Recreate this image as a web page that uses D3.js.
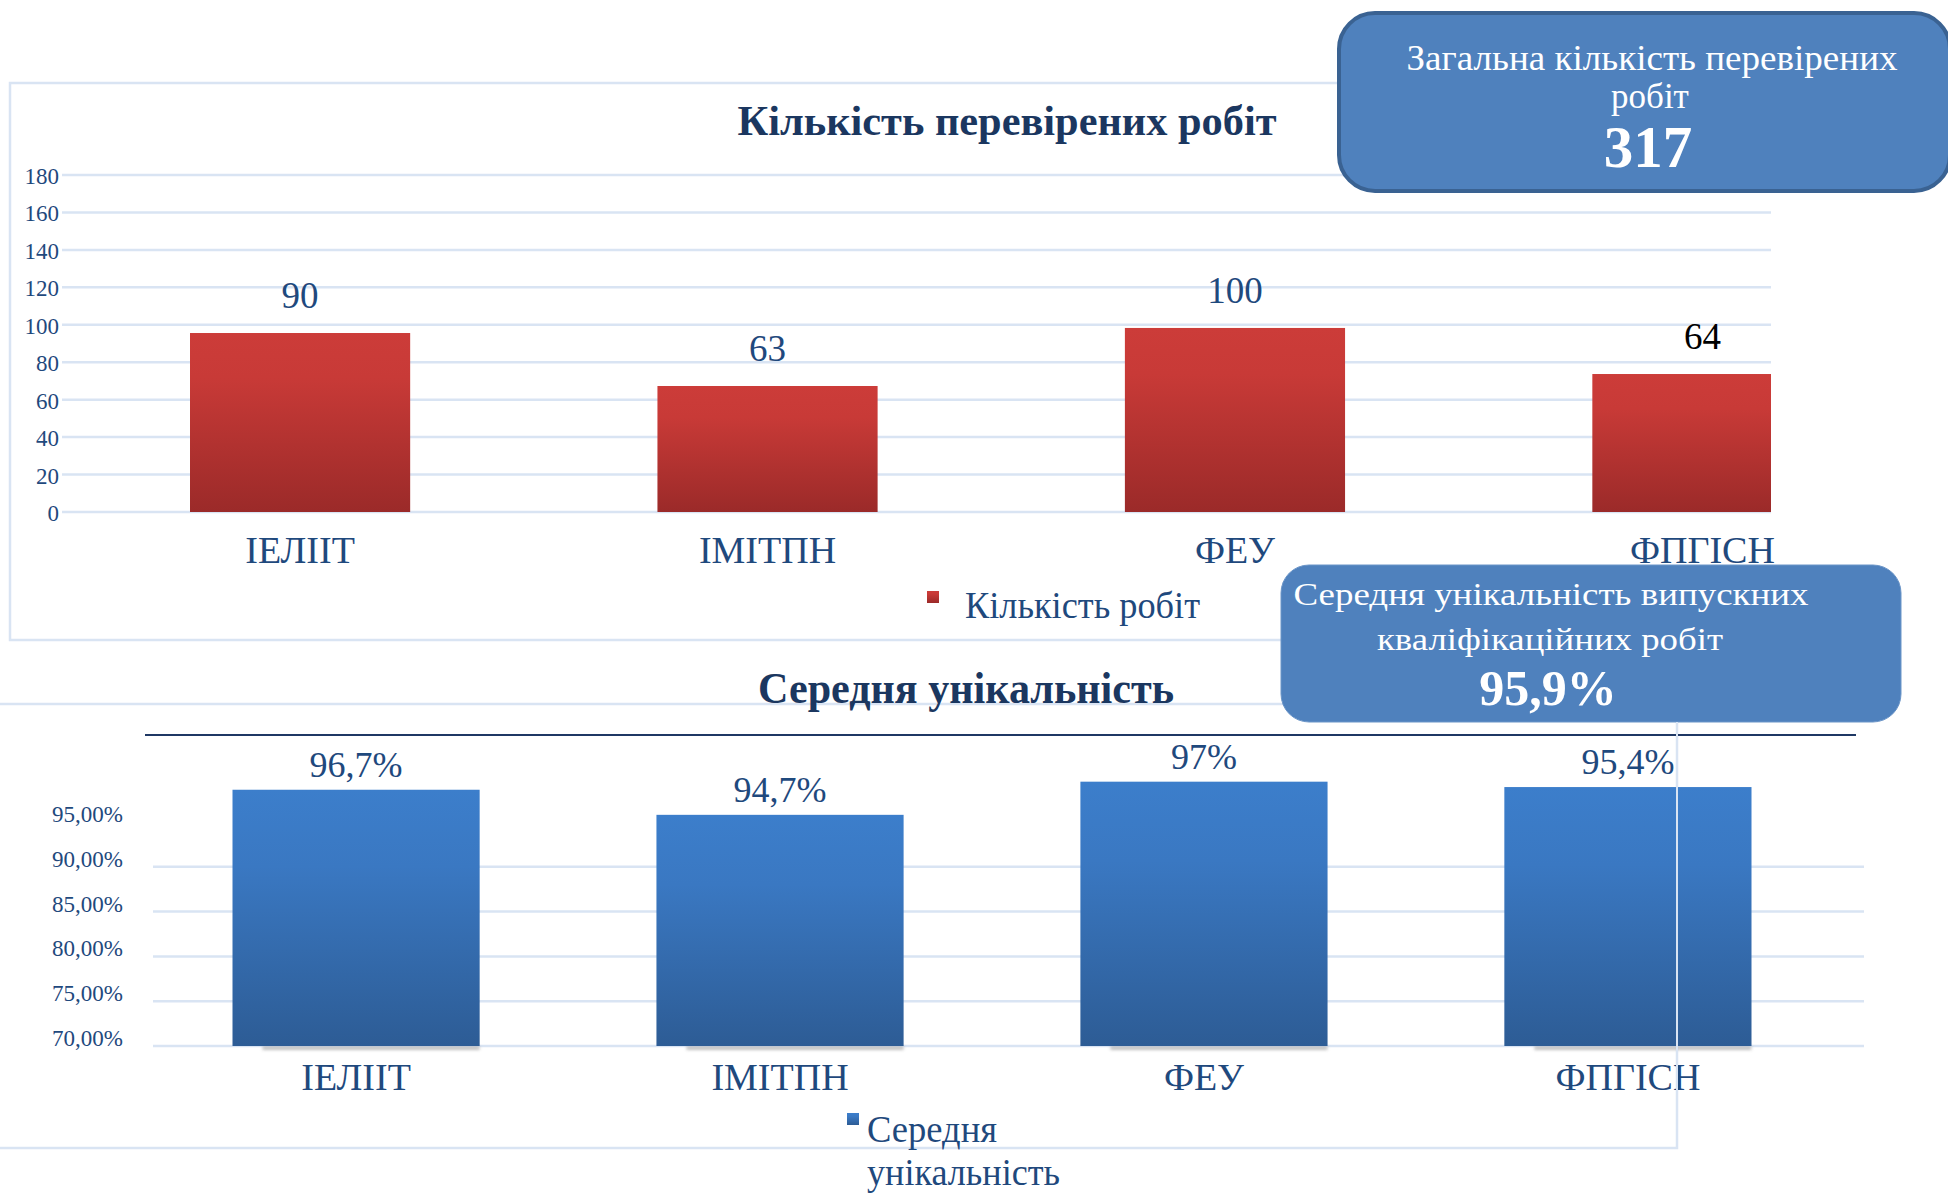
<!DOCTYPE html>
<html>
<head>
<meta charset="utf-8">
<script src="https://cdn.jsdelivr.net/npm/d3@7/dist/d3.min.js"></script>
<style>
  html, body { margin: 0; padding: 0; background: #ffffff; }
  svg { display: block; }
  text { font-family: "Liberation Serif", "Times New Roman", serif; }
</style>
</head>
<body>
<svg id="chart" width="1948" height="1193"></svg>
<script>
// ---------- data ----------
const categories = ["ІЕЛІІТ", "ІМІТПН", "ФЕУ", "ФПГІСН"];

// chart 1: "Кількість перевірених робіт"
const countBarValues = [95.6, 67.3, 98.3, 73.7];      // bar heights as drawn
const countLabels = ["90", "63", "100", "64"];          // data labels as printed
const countTicks = [0, 20, 40, 60, 80, 100, 120, 140, 160, 180];
const countTotal = "317";

// chart 2: "Середня унікальність"
const uniqBarValues = [98.6, 95.8, 99.5, 98.9];         // bar heights as drawn (%)
const uniqLabels = ["96,7%", "94,7%", "97%", "95,4%"];  // data labels as printed
const uniqTicks = [70, 75, 80, 85, 90, 95];
const uniqGridTicks = [70, 75, 80, 85, 90];
const uniqTickLabels = ["70,00%", "75,00%", "80,00%", "85,00%", "90,00%", "95,00%"];
const uniqAverage = "95,9%";

// ---------- setup ----------
const svg = d3.select("#chart");
const navy = "#1f497d";
const titleNavy = "#1b3760";
const gridColor = "#d9e4f3";
const defs = svg.append("defs");

const redGrad = defs.append("linearGradient").attr("id", "redGrad").attr("x1", 0).attr("y1", 0).attr("x2", 0).attr("y2", 1);
redGrad.append("stop").attr("offset", "0%").attr("stop-color", "#cc3c39");
redGrad.append("stop").attr("offset", "25%").attr("stop-color", "#c83a37");
redGrad.append("stop").attr("offset", "100%").attr("stop-color", "#9b2a29");

const blueGrad = defs.append("linearGradient").attr("id", "blueGrad").attr("x1", 0).attr("y1", 0).attr("x2", 0).attr("y2", 1);
blueGrad.append("stop").attr("offset", "0%").attr("stop-color", "#3c7ecb");
blueGrad.append("stop").attr("offset", "30%").attr("stop-color", "#3a78c2");
blueGrad.append("stop").attr("offset", "100%").attr("stop-color", "#2d5c95");

const blur = defs.append("filter").attr("id", "shadowBlur").attr("x", "-10%").attr("y", "-200%").attr("width", "120%").attr("height", "500%");
blur.append("feGaussianBlur").attr("stdDeviation", 1.5);

defs.append("clipPath").attr("id", "clipTop")
  .append("rect").attr("x", 62).attr("y", 150).attr("width", 1771 - 62).attr("height", 400);

// ---------- chart 1 ----------
const g1 = svg.append("g");
// outer chart box (right edge hidden behind the callouts)
g1.append("path").attr("d", "M1850,83 H10 V640 H1850")
  .attr("fill", "none").attr("stroke", gridColor).attr("stroke-width", 2.5);

const y1 = d3.scaleLinear().domain([0, 180]).range([512, 175]);
const x1 = d3.scaleBand().domain(categories).range([190, 1812.5]).paddingInner(0.529).paddingOuter(0);

// gridlines
g1.selectAll("line.grid").data(countTicks).join("line")
  .attr("x1", 62).attr("x2", 1771)
  .attr("y1", d => y1(d)).attr("y2", d => y1(d))
  .attr("stroke", gridColor).attr("stroke-width", 2.5);

// y tick labels
g1.selectAll("text.ytick").data(countTicks).join("text")
  .attr("x", 59).attr("y", d => y1(d) + 9)
  .attr("text-anchor", "end").attr("font-size", 23).attr("fill", navy)
  .text(d => d);

// bars
g1.append("g").attr("clip-path", "url(#clipTop)")
  .selectAll("rect").data(categories).join("rect")
  .attr("x", d => x1(d)).attr("width", x1.bandwidth())
  .attr("y", (d, i) => y1(countBarValues[i]))
  .attr("height", (d, i) => y1(0) - y1(countBarValues[i]))
  .attr("fill", "url(#redGrad)");

// data labels
g1.selectAll("text.dl").data(categories).join("text")
  .attr("x", d => x1(d) + x1.bandwidth() / 2)
  .attr("y", (d, i) => y1(countBarValues[i]) - 25)
  .attr("text-anchor", "middle").attr("font-size", 37)
  .attr("fill", (d, i) => i === 3 ? "#000000" : navy)
  .text((d, i) => countLabels[i]);

// category labels
g1.selectAll("text.cat").data(categories).join("text")
  .attr("x", d => x1(d) + x1.bandwidth() / 2)
  .attr("y", 563)
  .attr("text-anchor", "middle").attr("font-size", 38).attr("fill", navy)
  .text(d => d);

// title
g1.append("text").attr("x", 1007).attr("y", 135).attr("text-anchor", "middle")
  .attr("font-size", 43).attr("font-weight", "bold").attr("fill", titleNavy)
  .attr("textLength", 539).attr("lengthAdjust", "spacingAndGlyphs")
  .text("Кількість перевірених робіт");

// legend
g1.append("rect").attr("x", 927).attr("y", 591).attr("width", 12).attr("height", 12).attr("fill", "url(#redGrad)");
g1.append("text").attr("x", 965).attr("y", 618).attr("font-size", 37).attr("fill", navy)
  .attr("textLength", 235).attr("lengthAdjust", "spacingAndGlyphs")
  .text("Кількість робіт");

// ---------- chart 2 ----------
const g2 = svg.append("g");
// box (left edge offscreen)
g2.append("rect").attr("x", -10).attr("y", 704).attr("width", 1687).attr("height", 444)
  .attr("fill", "none").attr("stroke", gridColor).attr("stroke-width", 2.5);

// navy separator line
g2.append("line").attr("x1", 145).attr("x2", 1856).attr("y1", 735).attr("y2", 735)
  .attr("stroke", "#1f3864").attr("stroke-width", 2);

const y2 = d3.scaleLinear().domain([70, 100]).range([1046, 777.2]);
const x2 = d3.scaleBand().domain(categories).range([232.5, 1751.5]).paddingInner(0.417).paddingOuter(0);

g2.selectAll("line.grid").data(uniqGridTicks).join("line")
  .attr("x1", 153).attr("x2", 1864)
  .attr("y1", d => y2(d)).attr("y2", d => y2(d))
  .attr("stroke", gridColor).attr("stroke-width", 2.5);

g2.selectAll("text.ytick").data(uniqTicks).join("text")
  .attr("x", 123).attr("y", d => y2(d))
  .attr("text-anchor", "end").attr("font-size", 23).attr("fill", navy)
  .text((d, i) => uniqTickLabels[i]);

// bar shadows
g2.selectAll("rect.shadow").data(categories).join("rect")
  .attr("x", d => x2(d) + 30).attr("width", x2.bandwidth() - 30)
  .attr("y", y2(70)).attr("height", 4)
  .attr("fill", "#9a9a9a").attr("opacity", 0.6).attr("filter", "url(#shadowBlur)");

g2.selectAll("rect.bar").data(categories).join("rect")
  .attr("x", d => x2(d)).attr("width", x2.bandwidth())
  .attr("y", (d, i) => y2(uniqBarValues[i]))
  .attr("height", (d, i) => y2(70) - y2(uniqBarValues[i]))
  .attr("fill", "url(#blueGrad)");

g2.selectAll("text.dl").data(categories).join("text")
  .attr("x", d => x2(d) + x2.bandwidth() / 2)
  .attr("y", (d, i) => y2(uniqBarValues[i]) - 13)
  .attr("text-anchor", "middle").attr("font-size", 36).attr("fill", navy)
  .text((d, i) => uniqLabels[i]);

g2.selectAll("text.cat").data(categories).join("text")
  .attr("x", d => x2(d) + x2.bandwidth() / 2)
  .attr("y", 1090)
  .attr("text-anchor", "middle").attr("font-size", 38).attr("fill", navy)
  .text(d => d);

g2.append("text").attr("x", 966).attr("y", 703).attr("text-anchor", "middle")
  .attr("font-size", 45).attr("font-weight", "bold").attr("fill", titleNavy)
  .attr("textLength", 416).attr("lengthAdjust", "spacingAndGlyphs")
  .text("Середня унікальність");

// legend
g2.append("rect").attr("x", 847).attr("y", 1113).attr("width", 12).attr("height", 12).attr("fill", "url(#blueGrad)");
g2.append("text").attr("x", 867).attr("y", 1142).attr("font-size", 37).attr("fill", navy)
  .attr("textLength", 130).attr("lengthAdjust", "spacingAndGlyphs").text("Середня");
g2.append("text").attr("x", 867).attr("y", 1185).attr("font-size", 37).attr("fill", navy)
  .attr("textLength", 193).attr("lengthAdjust", "spacingAndGlyphs").text("унікальність");

// ---------- callouts ----------
const c1 = svg.append("g");
c1.append("rect").attr("x", 1339).attr("y", 13).attr("width", 611).attr("height", 178).attr("rx", 36)
  .attr("fill", "#4f81bd").attr("stroke", "#3a6292").attr("stroke-width", 4);
c1.append("text").attr("x", 1652).attr("y", 70).attr("text-anchor", "middle").attr("font-size", 35).attr("fill", "#ffffff")
  .attr("textLength", 491).attr("lengthAdjust", "spacingAndGlyphs").text("Загальна кількість перевірених");
c1.append("text").attr("x", 1650).attr("y", 108).attr("text-anchor", "middle").attr("font-size", 35).attr("fill", "#ffffff")
  .text("робіт");
c1.append("text").attr("x", 1648).attr("y", 167).attr("text-anchor", "middle").attr("font-size", 59).attr("font-weight", "bold").attr("fill", "#ffffff")
  .text(countTotal);

const c2 = svg.append("g");
c2.append("rect").attr("x", 1281).attr("y", 565).attr("width", 620).attr("height", 157).attr("rx", 28)
  .attr("fill", "#4f81bd").attr("stroke", "#6b95c8").attr("stroke-width", 1);
c2.append("text").attr("x", 1551).attr("y", 605).attr("text-anchor", "middle").attr("font-size", 32).attr("fill", "#ffffff")
  .attr("textLength", 515).attr("lengthAdjust", "spacingAndGlyphs").text("Середня унікальність випускних");
c2.append("text").attr("x", 1550).attr("y", 650).attr("text-anchor", "middle").attr("font-size", 32).attr("fill", "#ffffff")
  .attr("textLength", 346).attr("lengthAdjust", "spacingAndGlyphs").text("кваліфікаційних робіт");
c2.append("text").attr("x", 1548).attr("y", 705).attr("text-anchor", "middle").attr("font-size", 50).attr("font-weight", "bold").attr("fill", "#ffffff")
  .text(uniqAverage);

// vertical line of lower chart box drawn over bars (as in source)
svg.append("line").attr("x1", 1677).attr("x2", 1677).attr("y1", 722).attr("y2", 1148)
  .attr("stroke", gridColor).attr("stroke-width", 2);
</script>
</body>
</html>
